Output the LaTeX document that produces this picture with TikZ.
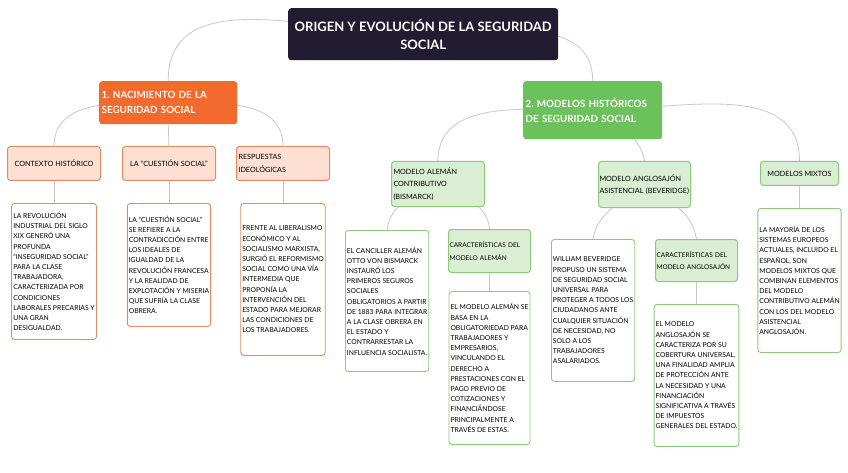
\documentclass[tikz,border=0pt]{standalone}
\usepackage{fontspec}
\setmainfont{Lato}
\usetikzlibrary{positioning, backgrounds}
\definecolor{ssdark}{HTML}{221C33}
\definecolor{ssorange}{HTML}{F26A2E}
\definecolor{ssgreen}{HTML}{6CC25A}
\definecolor{orangebg}{HTML}{FDE0D2}
\definecolor{orangeline}{HTML}{E58A62}
\definecolor{greenbg}{HTML}{D9EED2}
\definecolor{greenline}{HTML}{8ACB78}
\definecolor{linkgray}{HTML}{C9C9C9}
\begin{document}
\frenchspacing
\begin{tikzpicture}[x=1pt, y=1pt,
  titlebox/.style={rectangle, rounded corners=3pt, fill=ssdark, text=white,
    font=\fontsize{13}{18}\selectfont\bfseries, align=center, inner sep=2pt,
    anchor=north west},
  rama/.style={rectangle, rounded corners=3pt, fill=#1, text=white,
    font=\fontsize{9.8}{15}\selectfont\bfseries, align=left,
    inner xsep=2.5pt, anchor=north west},
  tema/.style={rectangle, rounded corners=3pt, draw=#1line, fill=#1bg,
    line width=1pt, font=\fontsize{7.2}{12.5}\selectfont, align=center,
    inner xsep=2pt, anchor=north west},
  subtema/.style={tema=green, font=\fontsize{6.5}{12.5}\selectfont,
    align=left, text width=80, inner xsep=1pt},
  nota/.style={rectangle, rounded corners=3pt, draw=#1line, fill=white,
    line width=0.9pt, font=\fontsize{6.8}{10.2}\selectfont, align=left,
    inner xsep=1.5pt},
  enlace/.style={draw=linkgray, line width=0.8pt}
]
  \useasboundingbox (0,0) rectangle (848,-473);
  \node[titlebox, minimum width=270, minimum height=52] (origen) at (288,-8)
    {ORIGEN Y EVOLUCIÓN DE LA SEGURIDAD\\SOCIAL};

  \node[rama=ssorange, text width=133, minimum height=43] (nacimiento) at (99,-81)
    {1. NACIMIENTO DE LA\\SEGURIDAD SOCIAL};
  \node[rama=ssgreen, text width=134, minimum height=58] (modelos) at (523,-81)
    {2. MODELOS HISTÓRICOS\\DE SEGURIDAD SOCIAL};

  \node[tema=orange, minimum width=93, minimum height=34] (contexto) at (7,-146)
    {CONTEXTO HISTÓRICO};
  \node[tema=orange, minimum width=93, minimum height=34] (cuestion) at (122,-146)
    {LA “CUESTIÓN SOCIAL”};
  \node[tema=orange, text width=89, align=left, minimum height=34] (respuestas) at (236,-146)
    {RESPUESTAS\\IDEOLÓGICAS};

  \node[nota=orange, minimum width=85, minimum height=136, below=22pt of contexto] (contextoTxt)
    {LA REVOLUCIÓN\\INDUSTRIAL DEL SIGLO\\XIX GENERÓ UNA\\PROFUNDA\\“INSEGURIDAD SOCIAL”\\PARA LA CLASE\\TRABAJADORA,\\CARACTERIZADA POR\\CONDICIONES\\LABORALES PRECARIAS Y\\UNA GRAN\\DESIGUALDAD.};
  \node[nota=orange, minimum width=83, minimum height=123, below=22pt of cuestion] (cuestionTxt)
    {LA “CUESTIÓN SOCIAL”\\SE REFIERE A LA\\CONTRADICCIÓN ENTRE\\LOS IDEALES DE\\IGUALDAD DE LA\\REVOLUCIÓN FRANCESA\\Y LA REALIDAD DE\\EXPLOTACIÓN Y MISERIA\\QUE SUFRÍA LA CLASE\\OBRERA.};
  \node[nota=orange, minimum width=84, minimum height=152, below=22pt of respuestas] (respuestasTxt)
    {FRENTE AL LIBERALISMO\\ECONÓMICO Y AL\\SOCIALISMO MARXISTA,\\SURGIÓ EL REFORMISMO\\SOCIAL COMO UNA VÍA\\INTERMEDIA QUE\\PROPONÍA LA\\INTERVENCIÓN DEL\\ESTADO PARA MEJORAR\\LAS CONDICIONES DE\\LOS TRABAJADORES.};

  \node[tema=green, text width=89, align=left, minimum height=45] (aleman) at (391,-161)
    {MODELO ALEMÁN\\CONTRIBUTIVO\\(BISMARCK)};
  \node[tema=green, text width=90, align=left, inner xsep=1pt, minimum height=46] (anglo) at (598,-161)
    {MODELO ANGLOSAJÓN\\ASISTENCIAL (BEVERIDGE)};
  \node[tema=green, minimum width=78, minimum height=24] (mixtos) at (760,-161)
    {MODELOS MIXTOS};

  \node[nota=green, anchor=north west, minimum width=82, minimum height=141] (bismarckTxt) at (345,-230)
    {EL CANCILLER ALEMÁN\\OTTO VON BISMARCK\\INSTAURÓ LOS\\PRIMEROS SEGUROS\\SOCIALES\\OBLIGATORIOS A PARTIR\\DE 1883 PARA INTEGRAR\\A LA CLASE OBRERA EN\\EL ESTADO Y\\CONTRARRESTAR LA\\INFLUENCIA SOCIALISTA.};
  \node[subtema, minimum height=43] (caracAl) at (448,-229)
    {CARACTERÍSTICAS DEL\\MODELO ALEMÁN};
  \node[nota=green, minimum width=81, minimum height=153, below=18pt of caracAl] (alemanTxt)
    {EL MODELO ALEMÁN SE\\BASA EN LA\\OBLIGATORIEDAD PARA\\TRABAJADORES Y\\EMPRESARIOS,\\VINCULANDO EL\\DERECHO A\\PRESTACIONES CON EL\\PAGO PREVIO DE\\COTIZACIONES Y\\FINANCIÁNDOSE\\PRINCIPALMENTE A\\TRAVÉS DE ESTAS.};

  \node[nota=green, anchor=north west, minimum width=82, minimum height=142] (beveridgeTxt) at (551,-239)
    {WILLIAM BEVERIDGE\\PROPUSO UN SISTEMA\\DE SEGURIDAD SOCIAL\\UNIVERSAL PARA\\PROTEGER A TODOS LOS\\CIUDADANOS ANTE\\CUALQUIER SITUACIÓN\\DE NECESIDAD, NO\\SOLO A LOS\\TRABAJADORES\\ASALARIADOS.};
  \node[subtema, minimum height=42] (caracAn) at (655,-239)
    {CARACTERÍSTICAS DEL\\MODELO ANGLOSAJÓN};
  \node[nota=green, minimum width=81, minimum height=142, below=22pt of caracAn] (angloTxt)
    {EL MODELO\\ANGLOSAJÓN SE\\CARACTERIZA POR SU\\COBERTURA UNIVERSAL,\\UNA FINALIDAD AMPLIA\\DE PROTECCIÓN ANTE\\LA NECESIDAD Y UNA\\FINANCIACIÓN\\SIGNIFICATIVA A TRAVÉS\\DE IMPUESTOS\\GENERALES DEL ESTADO.};
  \node[nota=green, minimum width=82, minimum height=144, below=22pt of mixtos] (mixtosTxt)
    {LA MAYORÍA DE LOS\\SISTEMAS EUROPEOS\\ACTUALES, INCLUIDO EL\\ESPAÑOL, SON\\MODELOS MIXTOS QUE\\COMBINAN ELEMENTOS\\DEL MODELO\\CONTRIBUTIVO ALEMÁN\\CON LOS DEL MODELO\\ASISTENCIAL\\ANGLOSAJÓN.};

  \begin{scope}[on background layer]
    \fill[white] (0,0) rectangle (848,-473);
    \draw[enlace] (origen.center) to[out=180, in=90] (nacimiento.north);
    \draw[enlace] (origen.center) to[out=0, in=90] (modelos.north);
    \draw[enlace] (nacimiento.center) to[out=180, in=90] (contexto.north);
    \draw[enlace] (nacimiento.south) -- (cuestion.north);
    \draw[enlace] (nacimiento.center) to[out=0, in=90] (respuestas.north);
    \draw[enlace] (modelos.center) to[out=180, in=90] (aleman.north);
    \draw[enlace] (modelos.center) to[out=-35, in=100] (anglo.north);
    \draw[enlace] (modelos.center) to[out=0, in=90] (mixtos.north);
    \draw[enlace] (aleman.center) to[out=-150, in=85] (bismarckTxt.north);
    \draw[enlace] (aleman.center) to[out=-30, in=95] (caracAl.north);
    \draw[enlace] (anglo.center) to[out=-140, in=80] (beveridgeTxt.north);
    \draw[enlace] (anglo.center) to[out=-35, in=100] (caracAn.north);
    \draw[enlace] (contexto.south) -- (contextoTxt.north);
    \draw[enlace] (cuestion.south) -- (cuestionTxt.north);
    \draw[enlace] (respuestas.south) -- (respuestasTxt.north);
    \draw[enlace] (caracAl.south) -- (alemanTxt.north);
    \draw[enlace] (caracAn.south) -- (angloTxt.north);
    \draw[enlace] (mixtos.south) -- (mixtosTxt.north);
  \end{scope}
\end{tikzpicture}
\end{document}
